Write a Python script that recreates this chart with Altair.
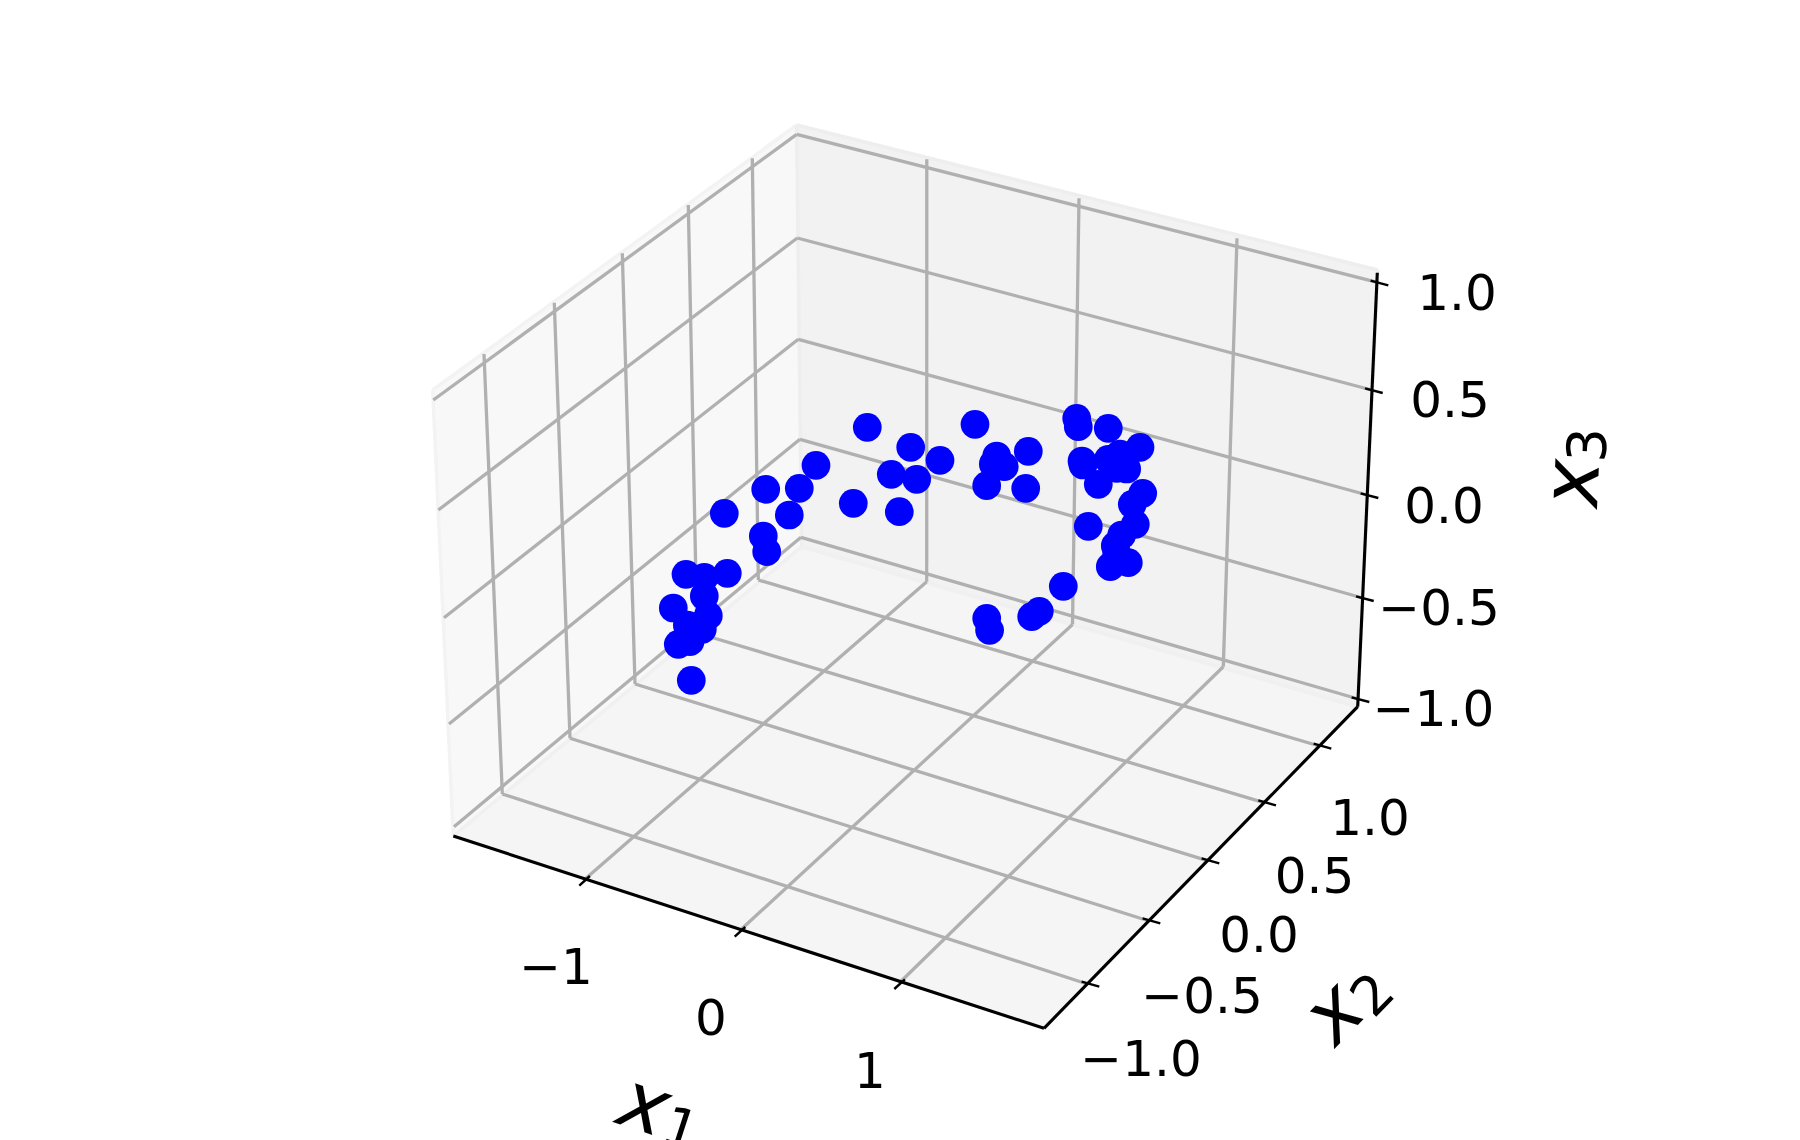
import altair as alt
import pandas as pd

proj_u = [975, 940, 996.7, 993.3, 1004.3, 1028.3, 986.7, 1025.7, 1076.7, 1078.3, 1108.3, 1082, 1083,
          1140, 1120, 1108.3, 1116.7, 1126.7, 1098.3, 1142.7, 1132.3, 1088.3, 1135.3, 1121.7, 1115.3,
          1116.7, 1128.3, 1110.3, 1063.3, 1039.3, 1031.7, 986.7, 989.6, 867.3, 910.7, 816, 891.3,
          916.7, 765.7, 799.3, 853.3, 899.3, 724.3, 789.3, 763.3, 766.7, 686, 704.3, 727.3, 704.3,
          673.3, 708.3, 687.3, 702.3, 690, 678.3, 691.3, 695]
proj_v = [424.3, 460.3, 456, 464, 466.7, 451.3, 485.7, 488.3, 418.3, 426.7, 428.3, 461, 465,
          447.3, 454, 459.3, 468.3, 469, 484.3, 493.3, 504.3, 526.3, 524.3, 535, 545.7,
          553.3, 562.7, 566.7, 586.3, 611.3, 616.7, 618.3, 630.3, 427.3, 447.3, 465.3, 474.3,
          479.3, 489.3, 488.3, 503.3, 511.7, 513.3, 515, 536, 551.7, 574.3, 577.3, 573.3, 596,
          608, 615.7, 625, 629.3, 641.7, 644.3, 680.3, 626.7]

# Box frame, projected
left_wall = [(432.7, 390), (796.7, 125), (801.7, 546.7), (453.3, 836)]
back_wall = [(796.7, 125), (1378, 270), (1357.7, 706.7), (801.7, 546.7)]
floor = [(453.3, 836), (1044, 1028.3), (1357.7, 706.7), (801.7, 546.7)]

z_corner = [(796.7, 134.3), (797.3, 238), (798.3, 339.3), (800, 439.3), (801, 537.3)]
z_right = [(1377.3, 282.3), (1371.7, 390), (1367.3, 495), (1362.7, 598), (1358.3, 699)]
z_left = [(433.3, 400), (438.3, 510), (444, 617.7), (449, 724), (454, 826.7)]

x2_top = [(484, 354), (554.3, 302.7), (622.3, 253.3), (688.3, 205), (752.3, 158.3)]
x2_bottom = [(502.3, 794), (570, 738.3), (635, 684), (697, 633), (758.3, 580)]
x2_axis = [(1087.3, 984), (1148.3, 920.7), (1207.3, 860.7), (1264, 802.7), (1319.3, 746)]

x1_top = [(926.8, 159.3), (1079, 198.3), (1237, 238.3)]
x1_bottom = [(926.7, 581.7), (1072.5, 624.5), (1223.3, 666.7)]
x1_axis = [(584, 880), (739.4, 931), (899, 983.3)]

axis_lines = [((453.3, 836), (1044, 1028.3)), ((1044, 1028.3), (1357.7, 706.7)), ((1357.7, 706.7), (1377.3, 272.7))]

x1_ticklabels = [("\u22121", 556, 965), ("0", 711, 1016), ("1", 870, 1069)]
x2_ticklabels = [("\u22121.0", 1141, 1057), ("\u22120.5", 1202, 994.5), ("0.0", 1259, 933), ("0.5", 1314.5, 874.5), ("1.0", 1370, 816)]
x3_ticklabels = [("\u22121.0", 1433.5, 707), ("\u22120.5", 1439, 606.5), ("0.0", 1444, 504), ("0.5", 1450, 398.5), ("1.0", 1457, 291)]

# text, u, v, angle, size, style
axis_names = [
    ("x", 644, 1107, 18, 80, "italic"), ("1", 680, 1131, 18, 54, "normal"),
    ("x", 1335, 1014, 314.4, 80, "italic"), ("2", 1374, 996, 314.4, 54, "normal"),
    ("x", 1574, 483.3, 272.6, 80, "italic"), ("3", 1590, 445, 272.6, 54, "normal"),
]

W, H = 1784, 1132
xs = alt.Scale(domain=[8, 8 + W], range=[0, W], nice=False, zero=False)
ys = alt.Scale(domain=[8, 8 + H], range=[0, H], nice=False, zero=False)
X = lambda f="u": alt.X(f + ":Q", scale=xs, axis=None)
Y = lambda f="v": alt.Y(f + ":Q", scale=ys, axis=None)


def pane(poly, color):
    # convex polygon -> top/bottom outline sampled at its vertex columns
    n = len(poly)
    rows = []
    for u in sorted({p[0] for p in poly}):
        hits = []
        for i in range(n):
            a, b = poly[i], poly[(i + 1) % n]
            if min(a[0], b[0]) <= u <= max(a[0], b[0]):
                if a[0] == b[0]:
                    hits += [a[1], b[1]]
                else:
                    hits.append(a[1] + (b[1] - a[1]) * (u - a[0]) / (b[0] - a[0]))
        rows.append({"u": u, "v": min(hits), "v2": max(hits)})
    return alt.Chart(pd.DataFrame(rows)).mark_area(color=color, opacity=1).encode(
        x=X(), y=Y(), y2=alt.Y2("v2:Q"))


def segs(pairs, color, width):
    df = pd.DataFrame([{"u": a[0], "v": a[1], "u2": b[0], "v2": b[1]} for a, b in pairs])
    return alt.Chart(df).mark_rule(color=color, strokeWidth=width).encode(
        x=X(), y=Y(), x2=alt.X2("u2:Q"), y2=alt.Y2("v2:Q"))


def outline(poly):
    return [(poly[i], poly[(i + 1) % len(poly)]) for i in range(len(poly))]


def ticks(points, d1, d2):
    return [((p[0] + d1[0], p[1] + d1[1]), (p[0] + d2[0], p[1] + d2[1])) for p in points]


def labels(items):
    df = pd.DataFrame(items, columns=["t", "u", "v"])
    return alt.Chart(df).mark_text(font="DejaVu Sans", fontSize=50, color="black", align="center",
                                   baseline="middle", dy=3.8).encode(x=X(), y=Y(), text="t:N")


layers = [
    pane(left_wall, "#f8f8f8"),
    pane(back_wall, "#f2f2f2"),
    pane(floor, "#f5f5f5"),
    segs(outline(left_wall), "#f3f3f3", 3.5),
    segs(outline(back_wall), "#eeeeee", 3.5),
    segs(outline(floor), "#f0f0f0", 3.5),
    segs(list(zip(z_corner, z_right)) + list(zip(z_corner, z_left))
         + list(zip(x2_top, x2_bottom)) + list(zip(x2_bottom, x2_axis))
         + list(zip(x1_top, x1_bottom)) + list(zip(x1_bottom, x1_axis)), "#b0b0b0", 3.3),
    segs(axis_lines, "black", 3.1),
    segs(ticks(z_right, (-6.7, -1.7), (11, 3)) + ticks(x2_axis, (-5.7, -2.3), (12, 2.7))
         + ticks(x1_axis, (5.9, -4), (-4.7, 5.7)), "black", 2.4),
    alt.Chart(pd.DataFrame({"u": proj_u, "v": proj_v})).mark_circle(
        color="#0000ff", size=824, opacity=1).encode(x=X(), y=Y()),
    labels(x1_ticklabels), labels(x2_ticklabels), labels(x3_ticklabels),
]
for t, u, v, a, s, st in axis_names:
    layers.append(
        alt.Chart(pd.DataFrame({"t": [t], "u": [u], "v": [v]})).mark_text(
            font="DejaVu Sans", fontSize=s, fontStyle=st, angle=a, color="black",
            align="center", baseline="middle").encode(x=X(), y=Y(), text="t:N"))

chart = alt.layer(*layers).properties(
    width=W, height=H, padding=0, autosize=alt.AutoSizeParams(type="none"), background="white"
).configure_view(stroke=None)

chart.save("out.html", embed_options={"renderer": "svg", "actions": False})
